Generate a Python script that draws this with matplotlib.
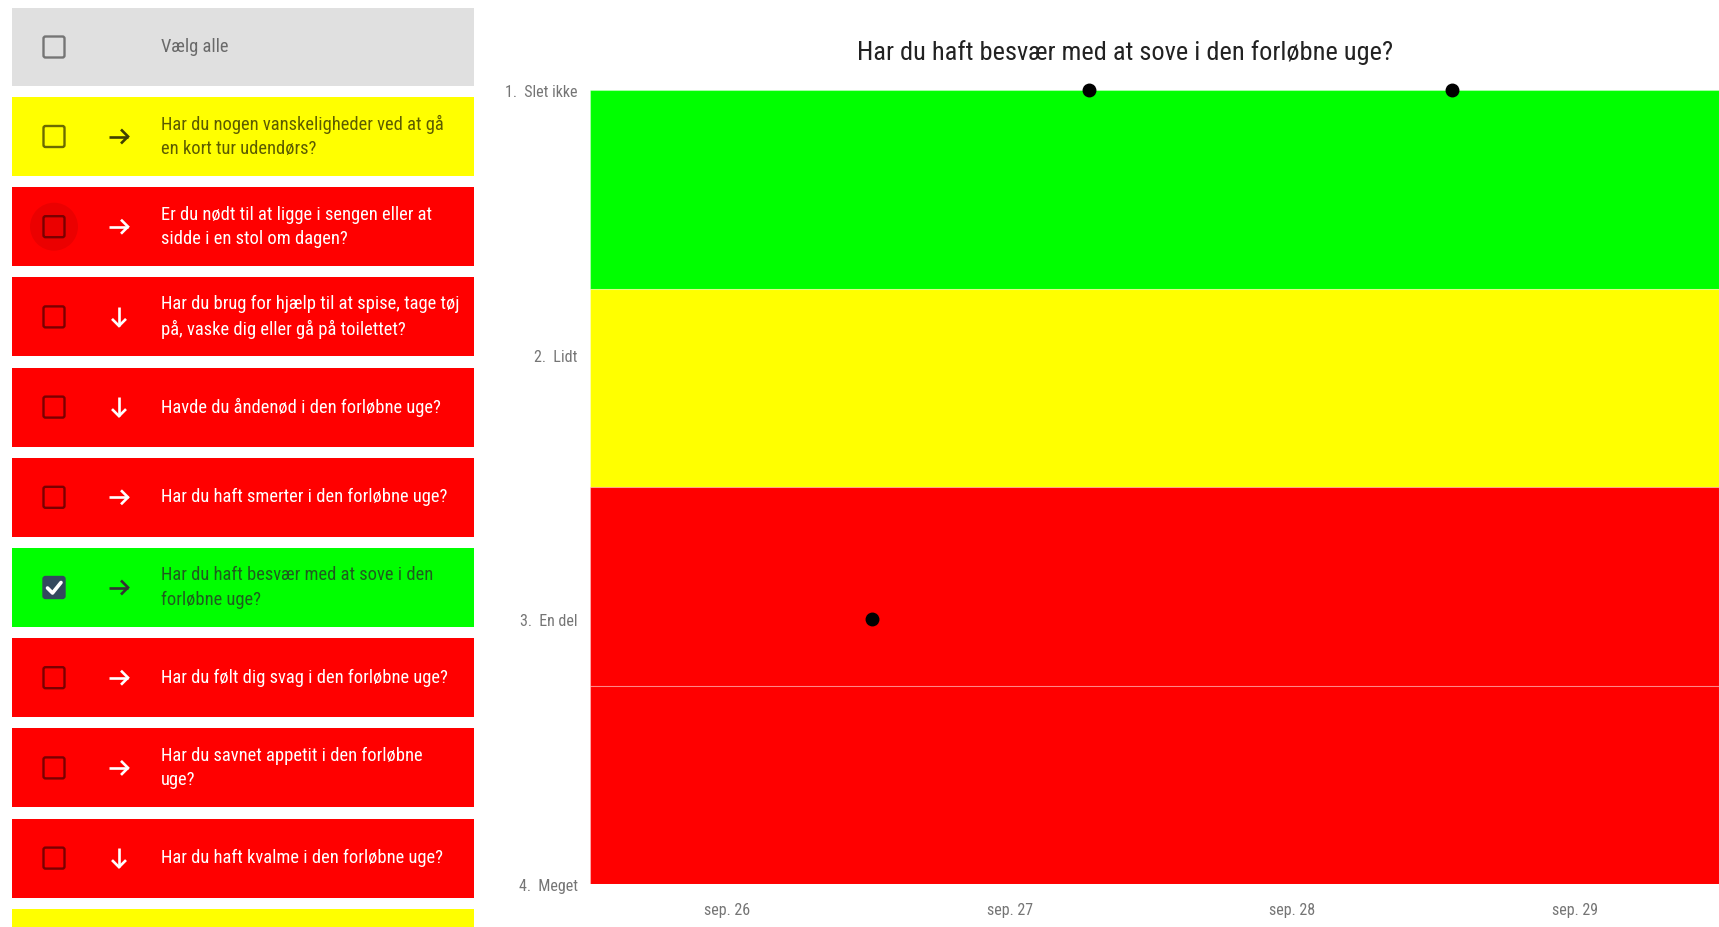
import matplotlib
matplotlib.use('Agg')
import matplotlib.pyplot as plt
from matplotlib import font_manager
from matplotlib.patches import FancyBboxPatch, Rectangle, Circle
from datetime import datetime

# --- data -------------------------------------------------------------
questions = [
    "Har du nogen vanskeligheder ved at gå\nen kort tur udendørs?",
    "Er du nødt til at ligge i sengen eller at\nsidde i en stol om dagen?",
    "Har du brug for hjælp til at spise, tage tøj\npå, vaske dig eller gå på toilettet?",
    "Havde du åndenød i den forløbne uge?",
    "Har du haft smerter i den forløbne uge?",
    "Har du haft besvær med at sove i den\nforløbne uge?",
    "Har du følt dig svag i den forløbne uge?",
    "Har du savnet appetit i den forløbne\nuge?",
    "Har du haft kvalme i den forløbne uge?",
    "Har du haft forstoppelse i den forløbne uge?",
]
row_status = ['yellow', 'red', 'red', 'red', 'red', 'green', 'red', 'red', 'red', 'yellow']
row_arrows = ['right', 'right', 'down', 'down', 'right', 'right', 'right', 'right', 'down', 'right']
row_checked = [False, False, False, False, False, True, False, False, False, False]

chart_title = "Har du haft besvær med at sove i den forløbne uge?"
answer_levels = [1, 2, 3, 4]
answer_labels = ["1.  Slet ikke", "2.  Lidt", "3.  En del", "4.  Meget"]
band_limits = [(1, 1.75), (1.75, 2.5), (2.5, 3.25), (3.25, 4)]
band_status = ['green', 'yellow', 'red', 'red']

obs_dates = [datetime(2021, 9, 26, 12, 19), datetime(2021, 9, 27, 6, 44), datetime(2021, 9, 28, 13, 33)]
obs_values = [3, 1, 1]
tick_dates = [datetime(2021, 9, d) for d in (26, 27, 28, 29)]
tick_labels = ["sep. 26", "sep. 27", "sep. 28", "sep. 29"]
x_start = datetime(2021, 9, 25, 12, 22)
x_end = datetime(2021, 9, 29, 12, 13)

# --- styles -----------------------------------------------------------
fill = {'green': '#00ff00', 'yellow': '#ffff00', 'red': '#ff0000', 'gray': '#e0e0e0'}
text_col = {'green': '#1f5c1f', 'yellow': '#5c5c00', 'red': 'white', 'gray': '#6a6a6a'}
arrow_col = {'green': '#333333', 'yellow': '#404000', 'red': 'white'}
box_col = {'green': '#34495e', 'yellow': '#6b6b00', 'red': '#7a0000', 'gray': '#757575'}

names = {f.name for f in font_manager.fontManager.ttflist}
narrow = 'Roboto'
for cand in ['Roboto Condensed', 'Liberation Sans Narrow', 'Archivo Narrow', 'PT Sans Narrow',
             'Open Sans Condensed', 'Pragati Narrow', 'Asap Condensed', 'Encode Sans Condensed']:
    if cand in names:
        narrow = cand
        break
plt.rcParams['font.family'] = [narrow, 'DejaVu Sans']

W, H = 1719, 928
fig = plt.figure(figsize=(W / 100, H / 100), dpi=100)

# --- left list panel (pixel coordinates) ------------------------------
ui = fig.add_axes([0, 0, 1, 1])
ui.set_xlim(0, W)
ui.set_ylim(H, 0)
ui.axis('off')

def checkbox(cy, status, checked):
    if checked:
        ui.add_patch(FancyBboxPatch((43, cy - 11), 22, 22, boxstyle='round,pad=0,rounding_size=2.5',
                                    fc=box_col[status], ec=box_col[status], lw=1))
        ui.plot([47.5, 52.5, 61], [cy + 0.5, cy + 5.5, cy - 5], color='white', lw=2.6,
                solid_capstyle='round', solid_joinstyle='round')
    else:
        ui.add_patch(FancyBboxPatch((43.5, cy - 10.5), 21, 21, boxstyle='round,pad=0,rounding_size=2',
                                    fc='none', ec=box_col[status], lw=1.7))

def arrow_icon(cx, cy, direction, color):
    kw = dict(color=color, lw=1.9, solid_capstyle='butt', solid_joinstyle='miter')
    if direction == 'right':
        ui.plot([cx - 10, cx + 9], [cy, cy], **kw)
        ui.plot([cx + 2, cx + 9, cx + 2], [cy - 7, cy, cy + 7], **kw)
    else:
        ui.plot([cx, cx], [cy - 10, cy + 9], **kw)
        ui.plot([cx - 7, cx, cx + 7], [cy + 2, cy + 9, cy + 2], **kw)

# "select all" row
ui.add_patch(Rectangle((12, 9), 462, 78, fc=fill['gray'], ec='none'))
checkbox(48, 'gray', False)
ui.text(161, 47, "Vælg alle", fontsize=13.3, color=text_col['gray'], va='center', ha='left')

row_pitch = 90.2
for i, (q, st, ar, ck) in enumerate(zip(questions, row_status, row_arrows, row_checked)):
    top = 98 + i * row_pitch
    cy = top + 39.5
    ui.add_patch(Rectangle((12, top), 462, 79, fc=fill[st], ec='none'))
    if i == 1:
        ui.add_patch(Circle((54, cy), 24, fc=(0, 0, 0, 0.08), ec='none'))
    checkbox(cy, st, ck)
    arrow_icon(119, cy, ar, arrow_col[st])
    ui.text(161, cy - 1, q, fontsize=13.3, color=text_col[st], va='center', ha='left',
            linespacing=1.45)

# --- chart ------------------------------------------------------------
ax = fig.add_axes([590 / W, (H - 885) / H, (W - 590) / W, (885 - 91) / H])
for (lo, hi), st in zip(band_limits, band_status):
    ax.axhspan(lo, hi, fc=fill[st], ec=(1, 1, 1, 0.3), lw=0.8, zorder=0)
ax.plot(obs_dates, obs_values, 'o', color='black', ms=9, ls='none', clip_on=False, zorder=3)

ax.set_ylim(4, 1)
ax.set_xlim(x_start, x_end)
ax.set_yticks(answer_levels)
ax.set_yticklabels(answer_labels)
ax.set_xticks(tick_dates)
ax.set_xticklabels(tick_labels)
ax.tick_params(axis='y', length=0, pad=9, labelsize=11.5, labelcolor='#757575')
ax.tick_params(axis='x', length=0, pad=13, labelsize=11.5, labelcolor='#757575')
for s in ax.spines.values():
    s.set_visible(False)

fig.text(1125 / W, 1 - 53 / H, chart_title, fontsize=19, color='#222222', ha='center', va='center')

fig.savefig('out.png', dpi=100)
